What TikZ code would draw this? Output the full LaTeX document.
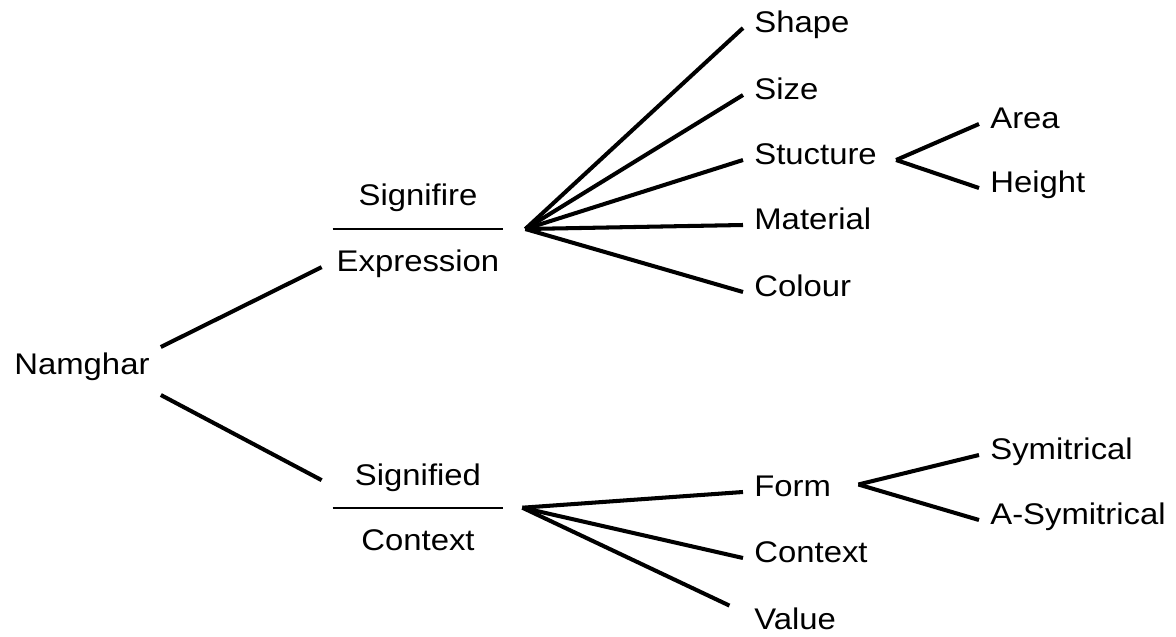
\documentclass[tikz,border=0pt]{standalone}
\usepackage{fontspec}
\setmainfont{Liberation Sans}[FakeStretch=1.1]
\usetikzlibrary{calc}

\begin{document}
\begin{tikzpicture}[every node/.style={font=\fontsize{17}{20}\selectfont, inner xsep=0.22cm, inner ysep=0.2cm, text height=0.75em, text depth=0.2em}, lbl/.style={anchor=west}, frac/.style={anchor=base, minimum width=3.84cm}, link/.style={line width=2.3pt}, bar/.style={line width=1.1pt, shorten <=0.22cm, shorten >=0.22cm}]
\useasboundingbox (0,0) rectangle (23.52,12.72);
\node[lbl] (namghar) at (0.06,5.32) {Namghar};
% the two fractions
\node[frac] (signifire) at (8.36,8.60) {Signifire};
\node[frac] (expression) at (8.36,7.28) {Expression};
\node[frac] (signified) at (8.36,3.02) {Signified};
\node[frac] (context) at (8.36,1.72) {Context};
\draw[bar] ($(signifire.south west)!.32!(expression.north west)$) -- ($(signifire.south east)!.32!(expression.north east)$);
\draw[bar] ($(signified.south west)!.32!(context.north west)$) -- ($(signified.south east)!.32!(context.north east)$);
\coordinate (expr-fan) at ($(signifire.south east)!.32!(expression.north east)+(0.22,0)$);
\coordinate (ctx-fan) at ($(signified.south east)!.32!(context.north east)+(0.16,0)$);
% expression side
\node[lbl] (shape) at (14.86,12.16) {Shape};
\node[lbl] (size) at (14.86,10.82) {Size};
\node[lbl] (stucture) at (14.86,9.52) {Stucture};
\node[lbl] (material) at (14.86,8.22) {Material};
\node[lbl] (colour) at (14.86,6.88) {Colour};
\node[lbl] (area) at (19.58,10.24) {Area};
\node[lbl] (height) at (19.58,8.96) {Height};
% context side
\node[lbl] (form) at (14.86,2.88) {Form};
\node[lbl] (ctx) at (14.86,1.56) {Context};
\node[lbl] (value) at (14.86,0.22) {Value};
\node[lbl] (sym) at (19.58,3.62) {Symitrical};
\node[lbl] (asym) at (19.58,2.32) {A-Symitrical};
\coordinate (stuct-fork) at ([xshift=0.16cm]stucture.east);
\coordinate (form-fork) at ([xshift=0.32cm,yshift=0.15cm]form.east);
\draw[link] ([yshift=0.46cm]namghar.east)--(expression.west); \draw[link] ([yshift=-0.5cm]namghar.east)--(signified.west);
\draw[link] (expr-fan)--(shape.west); \draw[link] (expr-fan)--(size.west); \draw[link] (expr-fan)--(stucture.west);
\draw[link] (expr-fan)--(material.west); \draw[link] (expr-fan)--(colour.west);
\draw[link] (stuct-fork)--(area.west); \draw[link] (stuct-fork)--(height.west);
\draw[link] (ctx-fan)--(form.west); \draw[link] (ctx-fan)--(ctx.west); \draw[link,shorten >=0.3cm] (ctx-fan)--([yshift=0.26cm]value.west);
\draw[link] (form-fork)--(sym.west); \draw[link] (form-fork)--(asym.west);
\end{tikzpicture}
\end{document}
